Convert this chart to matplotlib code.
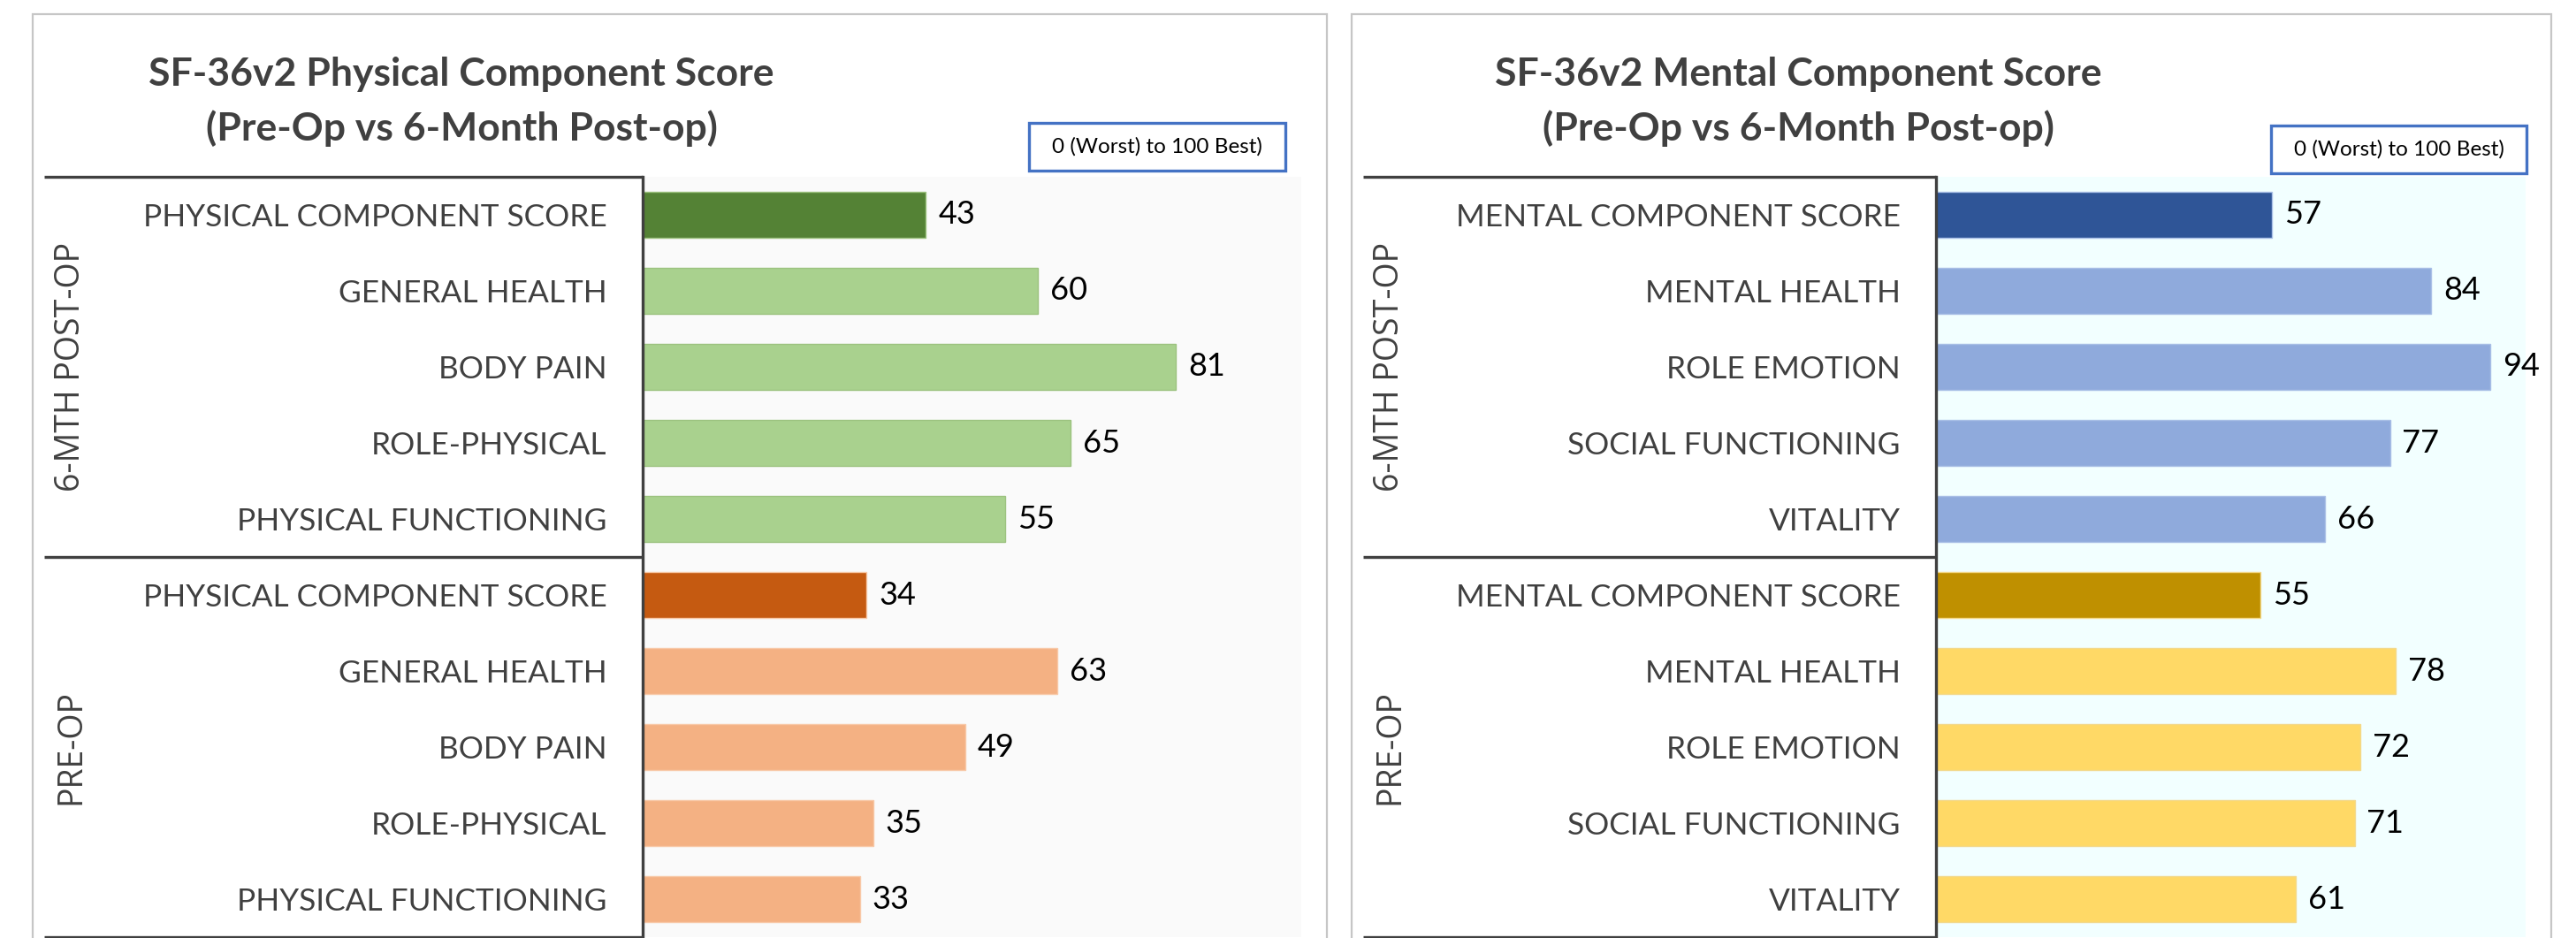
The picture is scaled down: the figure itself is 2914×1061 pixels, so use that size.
import matplotlib
matplotlib.use("Agg")
from matplotlib import pyplot as plt
from matplotlib.lines import Line2D
from matplotlib.patches import Rectangle
import matplotlib.transforms as mtransforms

# data (top to bottom within each group)
phys_items = ["PHYSICAL COMPONENT SCORE", "GENERAL HEALTH", "BODY PAIN", "ROLE-PHYSICAL", "PHYSICAL FUNCTIONING"]
phys_post = [43, 60, 81, 65, 55]
phys_pre = [34, 63, 49, 35, 33]

ment_items = ["MENTAL COMPONENT SCORE", "MENTAL HEALTH", "ROLE EMOTION", "SOCIAL FUNCTIONING", "VITALITY"]
ment_post = [57, 84, 94, 77, 66]
ment_pre = [55, 78, 72, 71, 61]

groups = ["6-MTH POST-OP", "PRE-OP"]
note = "0 (Worst) to 100 Best)"

W, H = 2914, 1061
fig = plt.figure(figsize=(W / 100, H / 100), dpi=100)
fig.patch.set_facecolor("white")

def fx(px):
    return px / W

def fy(py):
    return 1 - py / H

LABEL_FONT = "Lato"
GRAY = "#404040"


def panel(box, plot_x0, plot_x1, line_x0, title_cx, title, note_box, items, post, pre,
          cols, bg):
    # outer panel border
    fig.add_artist(Rectangle((fx(box[0]), fy(H + 5)), fx(box[1] - box[0]), fy(box[2]) - fy(H + 5),
                             transform=fig.transFigure, fill=False, edgecolor="#C6C6C6", lw=1.6))

    ax = fig.add_axes([fx(plot_x0), fy(1060), fx(plot_x1 - plot_x0), fy(200) - fy(1060)])
    ax.set_facecolor(bg)
    labels = items + items
    vals = post + pre
    colors = [cols[0]] + [cols[1]] * 4 + [cols[2]] + [cols[3]] * 4
    edges = [cols[4]] * 5 + [cols[5]] * 5
    ypos = list(range(len(vals)))
    ax.barh(ypos, vals, height=0.6, color=colors, edgecolor=edges, linewidth=1.0)
    for y, v in zip(ypos, vals):
        ax.annotate(str(v), (v, y), xytext=(10, 0), textcoords="offset points",
                    va="center", ha="left", fontsize=26, family=LABEL_FONT, color="black")
    ax.set_xlim(0, 100)
    ax.set_ylim(9.5, -0.5)
    ax.set_yticks(ypos)
    ax.set_yticklabels(labels, fontsize=25.4, family=LABEL_FONT, color=GRAY)
    ax.tick_params(axis="y", length=0, pad=29)
    ax.set_xticks([])
    for s in ["top", "right", "bottom"]:
        ax.spines[s].set_visible(False)
    ax.spines["left"].set_color(GRAY)
    ax.spines["left"].set_linewidth(2.4)

    # multi-level category lines
    tr = mtransforms.blended_transform_factory(fig.transFigure, ax.transData)
    for yl in [-0.5, 4.5, 9.5]:
        fig.add_artist(Line2D([fx(line_x0), fx(plot_x0)], [yl, yl], transform=tr,
                              color=GRAY, lw=2.4, solid_capstyle="butt"))
    for g, yc in zip(groups, [2, 7]):
        fig.text(fx(line_x0 + 30), yc, g, transform=tr, rotation=90, ha="center", va="center",
                 fontsize=27, family="Open Sans", color=GRAY)

    # title
    t1, t2 = title
    fig.text(fx(title_cx), fy(84), t1, ha="center", va="center", fontsize=32,
             fontweight="bold", family=LABEL_FONT, color=GRAY)
    fig.text(fx(title_cx), fy(145), t2, ha="center", va="center", fontsize=32,
             fontweight="bold", family=LABEL_FONT, color=GRAY)

    # scale note box
    x0, x1, y0, y1 = note_box
    fig.add_artist(Rectangle((fx(x0), fy(y1)), fx(x1 - x0), fy(y0) - fy(y1),
                             transform=fig.transFigure, facecolor="white",
                             edgecolor="#4472C4", lw=2.4))
    fig.text(fx((x0 + x1) / 2), fy((y0 + y1) / 2), note, ha="center", va="center",
             fontsize=17.5, family=LABEL_FONT, color="black")
    return ax


panel((37, 1501, 16), 727, 1472, 50, 522,
      ("SF-36v2 Physical Component Score", "(Pre-Op vs 6-Month Post-op)"),
      (1164, 1454, 139, 193), phys_items, phys_post, phys_pre,
      ["#548235", "#A9D18E", "#C55A11", "#F4B183", "#9CC27F", "#F8C9A8"], "#FAFAFA")

panel((1529, 2886, 16), 2190, 2857, 1542, 2034,
      ("SF-36v2 Mental Component Score", "(Pre-Op vs 6-Month Post-op)"),
      (2569, 2858, 142, 196), ment_items, ment_post, ment_pre,
      ["#2F5597", "#8FAADC", "#BF9000", "#FFD966", "#A9BFE6", "#F3D98C"], "#F2FFFF")

fig.savefig("out.png", dpi=100)
